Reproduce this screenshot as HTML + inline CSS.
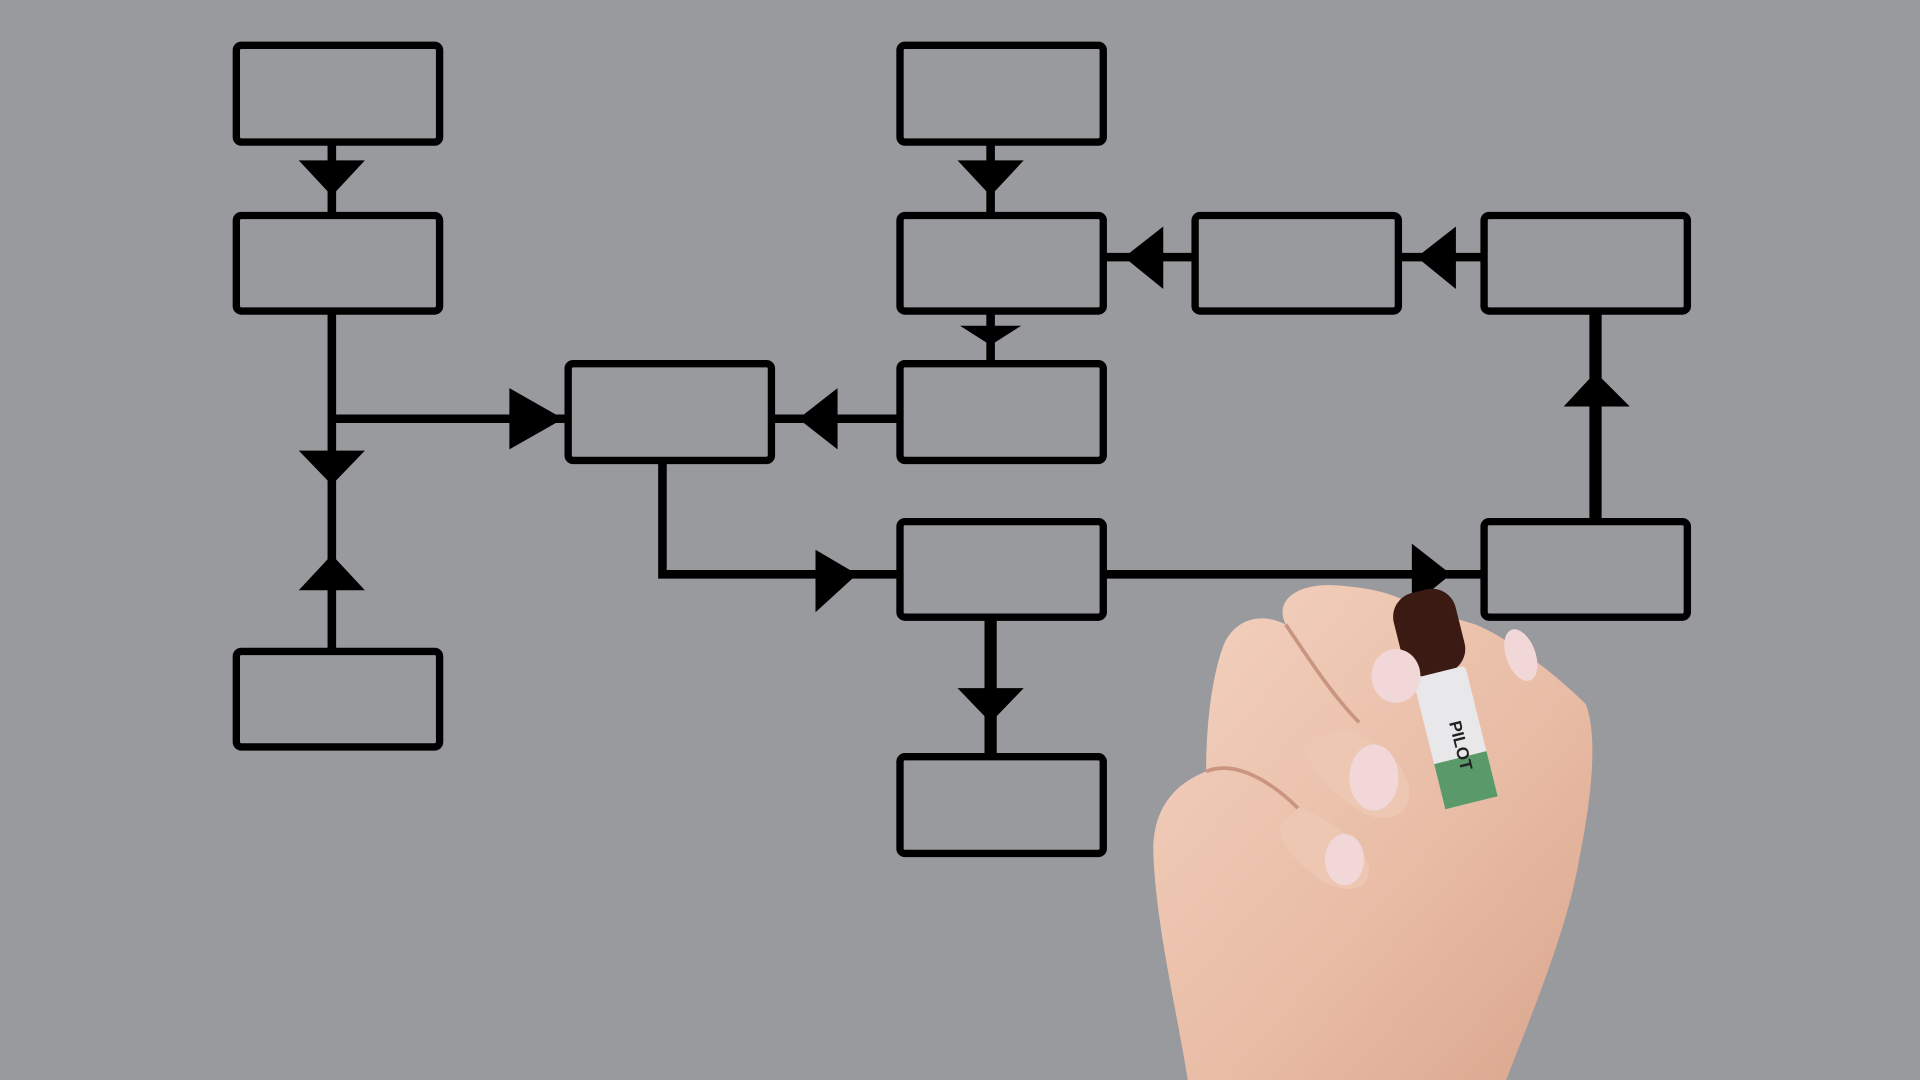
<!DOCTYPE html>
<html><head><meta charset="utf-8"><style>
html,body{margin:0;padding:0;background:#999a9e;overflow:hidden}
svg{display:block}
</style></head><body>
<svg width="1920" height="1080" viewBox="0 0 1568 882" xmlns="http://www.w3.org/2000/svg">
<defs>
<linearGradient id="sk" x1="0" y1="0" x2="1" y2="1">
<stop offset="0" stop-color="#f3d2c0"/><stop offset="0.6" stop-color="#e8bba4"/><stop offset="1" stop-color="#d9a58c"/>
</linearGradient>
</defs>
<rect width="1568" height="882" fill="#999a9e"/>
<g fill="none" stroke="#000" stroke-width="6" stroke-linejoin="round">
<rect x="193" y="37" width="166" height="79" rx="4"/>
<rect x="193" y="176" width="166" height="78" rx="4"/>
<rect x="193" y="532" width="166" height="78" rx="4"/>
<rect x="464" y="297" width="166" height="79" rx="4"/>
<rect x="735" y="37" width="166" height="79" rx="4"/>
<rect x="735" y="176" width="166" height="78" rx="4"/>
<rect x="735" y="297" width="166" height="79" rx="4"/>
<rect x="976" y="176" width="166" height="78" rx="4"/>
<rect x="1212" y="176" width="166" height="78" rx="4"/>
<rect x="735" y="426" width="166" height="78" rx="4"/>
<rect x="735" y="618" width="166" height="79" rx="4"/>
<rect x="1212" y="426" width="166" height="78" rx="4"/>
</g>
<g stroke="#000" stroke-width="7" fill="none">
<line x1="271" y1="116" x2="271" y2="176"/>
<line x1="271" y1="254" x2="271" y2="532"/>
<line x1="271" y1="342" x2="464" y2="342"/>
<polyline points="541,376 541,469 735,469"/>
<line x1="735" y1="342" x2="630" y2="342"/>
<line x1="809" y1="116" x2="809" y2="176"/>
<line x1="809" y1="254" x2="809" y2="297"/>
<line x1="976" y1="210" x2="901" y2="210"/>
<line x1="1212" y1="210" x2="1142" y2="210"/>
<line x1="901" y1="469" x2="1212" y2="469"/>
<line x1="1303" y1="426" x2="1303" y2="254" stroke-width="10"/>
<line x1="809" y1="504" x2="809" y2="618" stroke-width="10"/>
</g>
<g fill="#000">
<polygon points="244,131 298,131 271,160"/>
<polygon points="244,368 298,368 271,396"/>
<polygon points="244,482 298,482 271,453"/>
<polygon points="416,317 416,367 460,342"/>
<polygon points="666,449 666,500 700,469"/>
<polygon points="684,317 684,367 652,342"/>
<polygon points="782,131 836,131 809,160"/>
<polygon points="784,266 834,266 809,282"/>
<polygon points="950,185 950,236 918,210"/>
<polygon points="1189,185 1189,236 1157,210"/>
<polygon points="1277,332 1331,332 1303,304"/>
<polygon points="1153,444 1153,495 1185,469"/>
<polygon points="782,562 836,562 809,590"/>
</g>
<!-- hand -->
<path d="M970 882 C960 820 945 760 942 700 C940 660 960 640 985 630 C985 590 990 550 1000 525 C1010 505 1030 500 1050 510 C1040 490 1060 476 1090 478 C1120 480 1140 485 1155 495 L1205 510 C1230 520 1270 550 1295 575 C1305 600 1300 650 1290 700 C1280 760 1250 830 1230 882 Z" fill="url(#sk)"/>
<path d="M985 630 C1010 620 1040 640 1060 660 M1050 510 C1070 540 1090 570 1110 590" stroke="#c99580" stroke-width="3" fill="none"/>
<!-- marker -->
<g transform="rotate(-14 1180 560)">
<rect x="1152" y="480" width="52" height="70" rx="20" fill="#3a1a12"/>
<rect x="1156" y="548" width="44" height="110" rx="4" fill="#e8e8ea"/>
<rect x="1156" y="620" width="44" height="38" fill="#5a9a6a"/>
<text x="1166" y="600" font-family="Liberation Sans, sans-serif" font-size="14" font-weight="bold" fill="#222" transform="rotate(90 1176 600)">PILOT</text>
</g>
<!-- fingers overlap marker -->
<path d="M1095 595 C1110 600 1140 610 1150 640 C1155 660 1140 675 1115 665 C1090 650 1070 630 1065 610 Z" fill="#eec7b3"/>
<path d="M1060 660 C1090 670 1115 690 1118 710 C1118 728 1100 730 1080 720 C1060 705 1045 690 1045 675 Z" fill="#eec7b3"/>
<ellipse cx="1140" cy="552" rx="20" ry="22" fill="#f1d7d8"/>
<ellipse cx="1122" cy="635" rx="20" ry="27" fill="#f1d7d8"/>
<ellipse cx="1098" cy="702" rx="16" ry="21" fill="#f1d7d8"/>
<ellipse cx="1242" cy="535" rx="12" ry="22" fill="#f1d7d8" transform="rotate(-20 1242 535)"/>
</svg>
</body></html>
